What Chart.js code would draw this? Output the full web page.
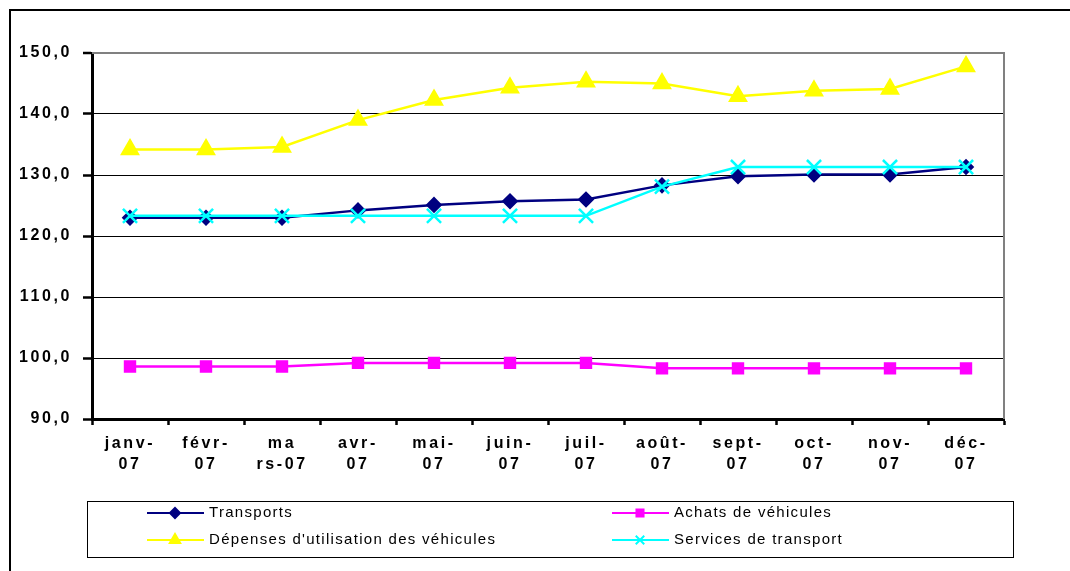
<!DOCTYPE html>
<html>
<head>
<meta charset="utf-8">
<script src="https://cdn.jsdelivr.net/npm/chart.js@4/dist/chart.umd.min.js"></script>
<style>
  html, body { margin: 0; padding: 0; background: #fff; }
  canvas { display: block; }
</style>
</head>
<body>
<canvas id="myChart" width="1070" height="571"></canvas>
<script>
const months = [['janv-', '07'], ['févr-', '07'], ['ma', 'rs-07'], ['avr-', '07'], ['mai-', '07'], ['juin-', '07'],
                ['juil-', '07'], ['août-', '07'], ['sept-', '07'], ['oct-', '07'], ['nov-', '07'], ['déc-', '07']];
const transports = [123.0, 123.0, 123.0, 124.2, 125.1, 125.7, 126.0, 128.3, 129.8, 130.1, 130.1, 131.3];
const achats = [98.6, 98.6, 98.6, 99.2, 99.2, 99.2, 99.2, 98.3, 98.3, 98.3, 98.3, 98.3];
const depenses = [134.2, 134.2, 134.6, 139.0, 142.3, 144.3, 145.3, 145.0, 142.9, 143.8, 144.1, 147.8];
const services = [123.3, 123.3, 123.3, 123.3, 123.3, 123.3, 123.3, 128.1, 131.3, 131.3, 131.3, 131.3];
const yMin = 90, yMax = 150, yStep = 10;

const FONT = "'Liberation Sans', Arial, sans-serif";

// frame, plot border and the boxed two-column legend
const extras = {
    id: 'extras',
    beforeDraw(chart) {
        chart.ctx.letterSpacing = '2.6px';
    },
    afterDraw(chart) {
        const c = chart.ctx;
        const a = chart.chartArea;
        c.save();
        c.letterSpacing = '0px';
        // outer frame (left and top)
        c.strokeStyle = '#000';
        c.lineWidth = 2;
        c.beginPath();
        c.moveTo(10, chart.height);
        c.lineTo(10, 10);
        c.lineTo(chart.width, 10);
        c.stroke();
        // plot border top and right
        c.strokeStyle = '#808080';
        c.lineWidth = 2;
        c.beginPath();
        c.moveTo(a.left, a.top);
        c.lineTo(a.right, a.top);
        c.lineTo(a.right, a.bottom);
        c.stroke();
        // legend box
        const bx = 87, by = 501, bw = 926, bh = 56;
        c.strokeStyle = '#000';
        c.lineWidth = 1;
        c.strokeRect(bx + 0.5, by + 0.5, bw, bh);
        const cols = [147, 612];
        const rows = [513, 540];
        c.font = '15px ' + FONT;
        c.letterSpacing = '1.3px';
        c.textBaseline = 'middle';
        c.textAlign = 'left';
        chart.data.datasets.forEach((ds, i) => {
            const x = cols[i % 2], y = rows[Math.floor(i / 2)];
            c.strokeStyle = ds.borderColor;
            c.lineWidth = 2;
            c.beginPath();
            c.moveTo(x, y);
            c.lineTo(x + 57, y);
            c.stroke();
            c.fillStyle = ds.pointBackgroundColor;
            c.strokeStyle = ds.pointBorderColor;
            Chart.helpers.drawPoint(c, {
                pointStyle: ds.pointStyle,
                radius: ds.legendRadius,
                borderWidth: ds.pointStyle === 'crossRot' ? 2 : 1
            }, x + 28, y);
            c.fillStyle = '#000';
            c.fillText(ds.label, x + 62, y);
        });
        c.restore();
    }
};

const ctx = document.getElementById('myChart').getContext('2d');
let myChart = new Chart(ctx, {
    type: 'line',
    data: {
        labels: months,
        datasets: [{
            label: 'Transports',
            data: transports,
            borderColor: '#000080',
            pointBackgroundColor: '#000080',
            pointBorderColor: '#000080',
            pointStyle: 'rectRot',
            pointRadius: 6.5,
            legendRadius: 5,
            borderWidth: 2.5,
            order: 3
        }, {
            label: 'Achats de véhicules',
            data: achats,
            borderColor: '#FF00FF',
            pointBackgroundColor: '#FF00FF',
            pointBorderColor: '#FF00FF',
            pointStyle: 'rect',
            pointRadius: 7,
            legendRadius: 5,
            borderWidth: 2.5,
            order: 2
        }, {
            label: "Dépenses d'utilisation des véhicules",
            data: depenses,
            borderColor: '#FFFF00',
            pointBackgroundColor: '#FFFF00',
            pointBorderColor: '#FFFF00',
            pointStyle: 'triangle',
            pointRadius: 9,
            legendRadius: 6,
            borderWidth: 2.5,
            order: 1
        }, {
            label: 'Services de transport',
            data: services,
            borderColor: '#00FFFF',
            pointBackgroundColor: '#00FFFF',
            pointBorderColor: '#00FFFF',
            pointStyle: 'crossRot',
            pointRadius: 10,
            pointBorderWidth: 2.5,
            legendRadius: 6,
            borderWidth: 2.5,
            order: 0
        }]
    },
    options: {
        responsive: false,
        animation: false,
        layout: { padding: { left: 0, right: 66, top: 53, bottom: 0 } },
        elements: { line: { tension: 0 } },
        scales: {
            x: {
                offset: true,
                grid: {
                    offset: true,
                    drawOnChartArea: false,
                    tickLength: 6,
                    tickColor: '#000',
                    tickWidth: 2.5
                },
                border: { color: '#000', width: 3 },
                ticks: {
                    color: '#000',
                    padding: 8,
                    maxRotation: 0,
                    autoSkip: false,
                    font: { family: FONT, size: 16, weight: 'bold', lineHeight: 1.3 }
                },
                afterFit(scale) { scale.height = 152; }
            },
            y: {
                min: yMin,
                max: yMax,
                grid: {
                    color: c => c.tick && c.tick.value === yMax ? '#808080' : '#000',
                    lineWidth: c => c.tick && c.tick.value === yMax ? 2 : 1,
                    tickLength: 9,
                    tickColor: '#000',
                    tickWidth: 2.5
                },
                border: { color: '#000', width: 3 },
                ticks: {
                    stepSize: yStep,
                    color: '#000',
                    padding: 11,
                    font: { family: FONT, size: 16, weight: 'bold' },
                    callback: v => v.toFixed(1).replace('.', ',')
                },
                afterFit(scale) { scale.width = 92; }
            }
        },
        plugins: {
            legend: { display: false },
            tooltip: { enabled: false }
        }
    },
    plugins: [extras]
});
</script>
</body>
</html>
